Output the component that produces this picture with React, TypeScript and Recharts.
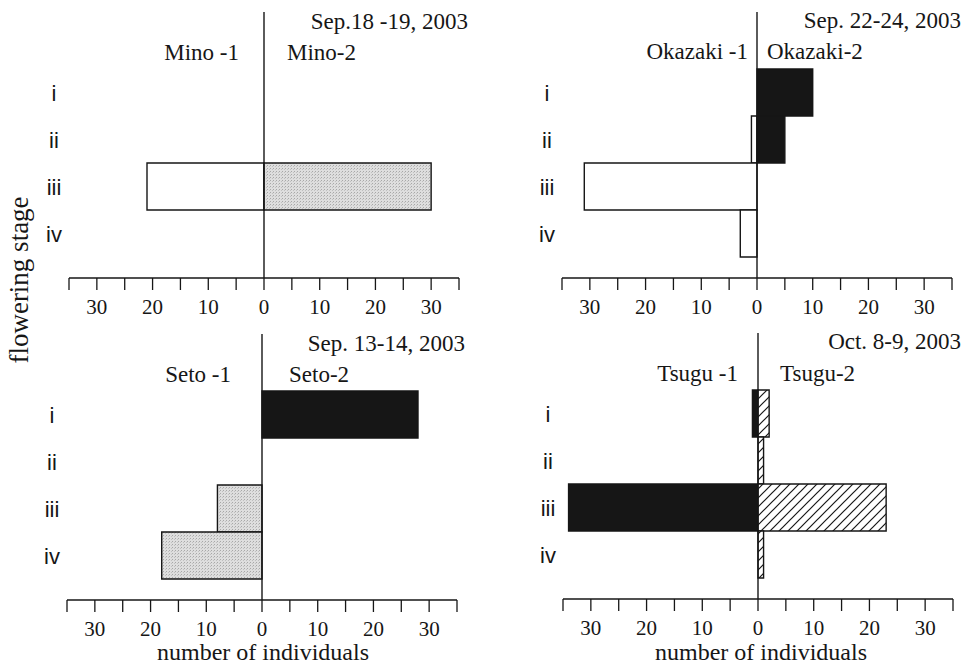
import React from "react";
import { BarChart, Bar, XAxis, YAxis, ReferenceLine } from "recharts";

const stages = ["i", "ii", "iii", "iv"];

const minoLeft = [0, 0, 21, 0];
const minoRight = [0, 0, 30, 0];
const okazakiLeft = [0, 1, 31, 3];
const okazakiRight = [10, 5, 0, 0];
const setoLeft = [0, 0, 8, 18];
const setoRight = [28, 0, 0, 0];
const tsuguLeft = [1, 0, 34, 0];
const tsuguRight = [2, 1, 23, 1];

const xTicks = [-35, -30, -25, -20, -15, -10, -5, 0, 5, 10, 15, 20, 25, 30, 35];

const SERIF = "'Liberation Serif', 'Times New Roman', serif";
const SANS = "'Liberation Sans', Arial, sans-serif";
const INK = "#161616";

const FILL = {
  open: "#ffffff",
  gray: "url(#stipple)",
  black: INK,
  hatch: "url(#hatch)",
};

function rows(left: number[], right: number[]) {
  return stages.map((stage, i) => ({ stage, left: -left[i], right: right[i] }));
}

function StageTick(props: any) {
  const { x, y, payload } = props;
  return (
    <text x={x - 1} y={y} dy={8} textAnchor="middle" fontFamily={SANS} fontSize={22} fill={INK}>
      {payload.value}
    </text>
  );
}

function Panel({ left, top, data, leftFill, rightFill }: any) {
  return (
    <div style={{ position: "absolute", left, top }}>
      <BarChart
        width={480}
        height={330}
        data={data}
        layout="vertical"
        stackOffset="sign"
        barCategoryGap={0}
        margin={{ top: 12, right: 21, left: 29, bottom: 7 }}
      >
        <XAxis
          type="number"
          domain={[-35, 35]}
          ticks={xTicks}
          interval={0}
          allowDataOverflow
          height={45}
          tickSize={12}
          tickMargin={9}
          axisLine={{ stroke: INK, strokeWidth: 1.6 }}
          tickLine={{ stroke: INK, strokeWidth: 1.3 }}
          tick={{ fill: INK, fontSize: 21, fontFamily: SERIF }}
          tickFormatter={(v: number) => (v % 10 === 0 ? String(Math.abs(v)) : "")}
        />
        <YAxis
          type="category"
          dataKey="stage"
          width={40}
          axisLine={false}
          tickLine={false}
          tickSize={0}
          tickMargin={14}
          padding={{ top: 57, bottom: 21 }}
          tick={<StageTick />}
        />
        <Bar dataKey="left" stackId="a" fill={leftFill} stroke={INK} strokeWidth={1.4} isAnimationActive={false} />
        <Bar dataKey="right" stackId="a" fill={rightFill} stroke={INK} strokeWidth={1.4} isAnimationActive={false} />
        <ReferenceLine x={0} stroke={INK} strokeWidth={1.4} />
      </BarChart>
    </div>
  );
}

export default function App() {
  const t = { fontFamily: SERIF, fontSize: 23, fill: INK };
  return (
    <div style={{ position: "absolute", left: 0, top: 0, width: 967, height: 666, overflow: "hidden", background: "#fff" }}>
      <svg width={967} height={666} style={{ position: "absolute", left: 0, top: 0 }}>
        <defs>
          <pattern id="stipple" patternUnits="userSpaceOnUse" width={3} height={3}>
            <rect width={3} height={3} fill="#dedede" />
            <rect x={0} y={0} width={1} height={1} fill="#a8a8a8" />
            <rect x={2} y={1} width={1} height={1} fill="#c0c0c0" />
          </pattern>
          <pattern id="hatch" patternUnits="userSpaceOnUse" width={9} height={9}>
            <rect width={9} height={9} fill="#fff" />
            <path d="M0,9 L9,0 M-2,2 L2,-2 M7,11 L11,7" stroke={INK} strokeWidth={1.2} />
          </pattern>
        </defs>
      </svg>

      <Panel left={0} top={0} data={rows(minoLeft, minoRight)} leftFill={FILL.open} rightFill={FILL.gray} />
      <Panel left={493} top={0} data={rows(okazakiLeft, okazakiRight)} leftFill={FILL.open} rightFill={FILL.black} />
      <Panel left={-2} top={322} data={rows(setoLeft, setoRight)} leftFill={FILL.gray} rightFill={FILL.black} />
      <Panel left={494} top={321} data={rows(tsuguLeft, tsuguRight)} leftFill={FILL.black} rightFill={FILL.hatch} />

      <svg width={967} height={666} style={{ position: "absolute", left: 0, top: 0, pointerEvents: "none" }}>
        <text {...t} x={468} y={29} textAnchor="end">Sep.18 -19, 2003</text>
        <text {...t} x={239} y={60} textAnchor="end">Mino -1</text>
        <text {...t} x={287} y={60}>Mino-2</text>

        <text {...t} x={961} y={28} textAnchor="end">Sep. 22-24, 2003</text>
        <text {...t} x={748} y={59} textAnchor="end">Okazaki -1</text>
        <text {...t} x={767} y={59}>Okazaki-2</text>

        <text {...t} x={465} y={351} textAnchor="end">Sep. 13-14, 2003</text>
        <text {...t} x={231} y={382} textAnchor="end">Seto -1</text>
        <text {...t} x={289} y={382}>Seto-2</text>

        <text {...t} x={961} y={349} textAnchor="end">Oct. 8-9, 2003</text>
        <text {...t} x={738} y={381} textAnchor="end">Tsugu -1</text>
        <text {...t} x={780} y={381}>Tsugu-2</text>

        <text {...t} fontSize={24} x={263} y={660} textAnchor="middle">number of individuals</text>
        <text {...t} fontSize={24} x={761} y={660} textAnchor="middle">number of individuals</text>

        <text {...t} fontSize={27} textAnchor="middle" transform="translate(28, 280) rotate(-90)">flowering stage</text>
      </svg>
    </div>
  );
}
